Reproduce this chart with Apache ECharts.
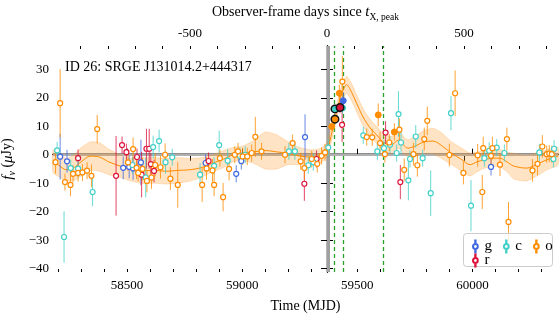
<!DOCTYPE html>
<html>
<head>
<meta charset="utf-8">
<script src="https://cdn.jsdelivr.net/npm/echarts@6/dist/echarts.min.js"></script>
<style>
  html, body { margin: 0; padding: 0; background: #fff; }
  #chart { width: 560px; height: 320px; }
</style>
</head>
<body>
<div id="chart"></div>
<script>
// ---- data ----
// g band (open)
const gT = [58209, 58239, 58483, 58509, 58526, 58560, 58841, 58974, 58996, 59273, 60081];
const gF = [-0.7, -2.3, -4.6, -4.3, -4.8, -2.7, -2.9, -6.7, -2.2, 6.2, -4.3];
const gE = [8, 4, 4, 4, 4, 8, 3, 3, 3, 8, 3];
// r band (open)
const rT = [58287, 58452, 58478, 58497, 58543, 58563, 58584, 58596, 58603, 58617, 58854, 59270, 59323, 59434, 59623, 59687];
const rF = [-1.2, -7.4, 3.4, 0.9, -0.8, -7, 2.1, 2.1, -3.3, -5.7, -2.2, -10.2, -1.5, 10.5, 7.8, -9.6];
const rE = [3, 14, 3, 3, 3, 8, 7, 7, 4, 4, 3, 6, 3, 6, 4, 6];
// c band (open)
const cT = [58196, 58226, 58255, 58287, 58350, 58523, 58581, 58613, 58639, 58667, 58696, 58817, 58878, 58900, 58937,
  58990, 59013, 59203, 59229, 59287, 59309, 59374, 59526, 59587, 59616, 59642, 59671, 59679, 59690, 59722, 59729,
  59754, 59784, 59819, 59907, 59994, 60052, 60073, 60106, 60139, 60291, 60352, 60355];
const cF = [1.5, -28.9, -4.7, -4.9, -13.1, -3.6, -8, 2.7, 4.8, -2.6, -0.9, -7, -3.9, 3.4, -2.1,
  -0.4, 0, 1.2, 1.2, -3.7, -2.6, 2.5, 6.8, 1.2, 2.3, 3.5, 0.6, 14.3, 4.3, -9, -1.5,
  6.4, -1.2, -13.5, 14.6, -17.9, -1.2, 1.4, 2.5, 0.6, 0.8, -1.5, 2.1];
const cE = [3, 9, 3, 3, 5, 3, 7, 4, 4, 4, 3, 4, 3, 5, 4,
  3, 3, 3, 3, 3, 3, 3, 3, 3, 3, 3, 3, 8, 4, 7, 3,
  4, 3, 8, 6, 9, 3, 3, 3, 3, 3, 3, 3];
// o band (open)
const oT = [58189, 58209, 58230, 58254, 58265, 58287, 58306, 58326, 58345, 58370, 58504, 58526, 58541, 58548, 58567,
  58586, 58606, 58622, 58645, 58665, 58688, 58720, 58826, 58845, 58871, 58878, 58903, 58917, 58943, 58968, 58982,
  59002, 59022, 59041, 59057, 59084, 59186, 59219, 59254, 59270, 59302, 59326, 59345, 59360, 59435, 59541, 59565,
  59599, 59620, 59639, 59683, 59704, 59744, 59761, 59791, 59804, 59900, 59925, 59961, 60023, 60043, 60047, 60081,
  60087, 60120, 60150, 60157, 60261, 60283, 60304, 60323, 60334, 60345];
const oF = [-2.6, 18.1, -9.6, -10.6, -6.7, -6.4, -6.2, -5.6, -7.4, 9, -2.7, 2, -4.6, -6.4, -5,
  -9.2, -8, -3.6, -4.4, 0, -8.4, -10.6, -10.6, -4.8, -5.5, -10.6, -1.2, -14.9, -5, 0, 1.2,
  -0.6, -0.6, 0.6, 6.3, 1.2, 0, 4.1, -2.3, -4.7, -1.5, -3.2, -0.4, 0.8, 25.7, 6.2, 6.1,
  4.1, 0.2, 4.3, 8.8, -5.3, 0.2, -3.7, 5.5, 11.9, -0.1, 21.6, -6.4, -0.2, -13.1, 2.3, -0.4,
  2.3, -3.5, 5.5, -23.6, -5.5, -3.2, 2.9, 0.2, 0.4, 0.2];
const oE = [4, 12, 3, 4, 3, 3, 3, 3, 4, 5, 3, 4, 4, 3, 4,
  4, 4, 4, 4, 4, 4, 8, 6, 4, 4, 4, 3, 5, 4, 3, 3,
  3, 3, 3, 7, 3, 3, 3, 3, 4, 3, 3, 3, 3, 9, 3, 3,
  4, 3, 3, 4, 4, 4, 4, 4, 5, 4, 8, 4, 4, 6, 4, 3,
  4, 4, 4, 7, 4, 4, 4, 3, 3, 3];
// filled detections
const oDetT = [59389, 59422, 59591, 59661];
const oDetF = [9.9, 21.6, 14, 8];
const oDetE = [1.5, 3, 4, 3];
const cDetT = [59436];
const cDetF = [16.4];
const cDetE = [2];
const gDetT = [59439];
const gDetF = [19];
const gDetE = [3];
// black-edged points
const keyT = [59403, 59403, 59425];
const keyF = [12.5, 16.1, 16.6];
const keyE = [1.5, 1.5, 2];
const keyBand = ['o', 'c', 'r'];
// model fit and its band half width
const modelT = [58178, 58200, 58236, 58270, 58300, 58340, 58380, 58420, 58470, 58520, 58570, 58620, 58670, 58720,
  58770, 58820, 58870, 58920, 58960, 59000, 59050, 59100, 59150, 59200, 59250, 59300, 59340, 59370, 59390, 59410,
  59430, 59454, 59475, 59497, 59520, 59541, 59565, 59584, 59605, 59625, 59650, 59670, 59685, 59700, 59720, 59750,
  59790, 59830, 59870, 59910, 59950, 59990, 60020, 60050, 60090, 60120, 60150, 60180, 60236, 60290, 60323, 60372];
const modelF = [-2.3, -3.5, -5.3, -4.5, -2.5, -0.5, -0.8, -2.5, -4, -5.3, -5.6, -5.5, -5.8, -5.5,
  -5.3, -4.6, -3, -1.5, 0, 0.5, 1, 1.5, 1, 0.5, -0.5, -0.8, -0.3, 2, 8, 15,
  21, 24.6, 22, 18.1, 14, 11.1, 8.5, 7, 5, 3.8, 3.5, 4.8, 5.2, 3.5, 2.3, 3,
  4.5, 4.8, 3, 0.5, -1.5, -3.5, -2.5, -1.8, -1.2, -1.2, -2.5, -4, -4.7, -3, -1.8, -0.5];
const modelW = [4, 4, 4, 4.5, 5, 5, 5, 4.5, 4, 4, 4.5, 4.5, 4.5, 4.5,
  4, 3.5, 3, 3, 2.5, 2.5, 4, 6.5, 6, 4, 3, 2.5, 2.5, 2.5, 2.5, 2.5,
  3, 3, 3, 3, 3, 3, 3, 3, 3, 3, 3, 3, 3, 3, 3, 3.5,
  4, 4.5, 4.5, 4, 4, 4, 3.5, 3, 3, 3, 3.5, 4.5, 4.5, 4, 3.5, 3];
// reference lines
const tPeak = 59372;
const greenLines = [59400, 59439, 59613];
// ticks
const mjdTicks = [58500, 59000, 59500, 60000];
const dayTicks = [-500, 0, 500];
const fluxTicks = [-40, -30, -20, -10, 0, 10, 20, 30];

const colors = { g: '#4169e1', r: '#dc143c', c: '#40d0c8', o: '#ff8c00' };
const serif = 'Liberation Serif';

const xMin = 58178, xMax = 60372;
const yMin = -41.2, yMax = 38.2;

function range(a, b, step) {
  const out = [];
  for (let v = a; v <= b; v += step) out.push(v);
  return out;
}

function zip(t, f) { return t.map((v, i) => [v, f[i]]); }
function bars(t, f, e) { return t.map((v, i) => [v, f[i] - e[i], f[i] + e[i]]); }

function errSeries(name, data, color) {
  return {
    name: name, type: 'custom', xAxisIndex: 0, yAxisIndex: 0, z: 3, silent: true,
    encode: { x: 0, y: [1, 2] },
    data: data,
    renderItem: function (params, api) {
      const a = api.coord([api.value(0), api.value(1)]);
      const b = api.coord([api.value(0), api.value(2)]);
      return { type: 'line', shape: { x1: a[0], y1: a[1], x2: b[0], y2: b[1] },
        style: { stroke: color, lineWidth: 1, opacity: 0.8 } };
    }
  };
}

function openSeries(name, data, color) {
  return {
    name: name, type: 'scatter', xAxisIndex: 0, yAxisIndex: 0, z: 4, silent: true,
    symbol: 'circle', symbolSize: 5, data: data,
    itemStyle: { color: '#fff', borderColor: color, borderWidth: 1.2, opacity: 1 }
  };
}

function filledSeries(name, data, color, edge) {
  return {
    name: name, type: 'scatter', xAxisIndex: 0, yAxisIndex: 0, z: 5, silent: true,
    symbol: 'circle', symbolSize: edge ? 7.5 : 6, data: data,
    itemStyle: { color: color, borderColor: edge ? '#111' : color, borderWidth: edge ? 1.5 : 1, opacity: 1 }
  };
}

const legendIcon = 'path://M1,10A4,4,0,1,1,9,10A4,4,0,1,1,1,10ZM4.7,0L5.3,0L5.3,6L4.7,6ZM4.7,14L5.3,14L5.3,20L4.7,20Z';

const series = [];

// model band
series.push({
  name: 'band', type: 'custom', xAxisIndex: 0, yAxisIndex: 0, z: 1, silent: true,
  data: [[modelT[0], modelF[0]]],
  renderItem: function (params, api) {
    const up = modelT.map((t, i) => api.coord([t, modelF[i] + modelW[i]]));
    const lo = modelT.map((t, i) => api.coord([t, modelF[i] - modelW[i]])).reverse();
    return { type: 'polygon', shape: { points: up.concat(lo), smooth: 0.2 },
      style: { fill: 'rgba(255,150,40,0.27)', stroke: 'rgba(255,150,40,0.3)', lineWidth: 0.8 } };
  }
});

// reference lines
series.push({
  name: 'refs', type: 'line', xAxisIndex: 0, yAxisIndex: 0, z: 1, data: [], silent: true,
  markLine: {
    silent: true, symbol: 'none', label: { show: false }, animation: false, z: 1,
    data: [
      { yAxis: 0, lineStyle: { color: '#b0b0b0', width: 2, type: 'solid' } },
      { xAxis: tPeak, lineStyle: { color: '#a0a0a0', width: 3, type: 'solid' } }
    ].concat(greenLines.map(v => ({ xAxis: v, lineStyle: { color: '#2ca02c', width: 1.3, type: [4, 3] } })))
  }
});

// model line
series.push({
  name: 'model', type: 'line', xAxisIndex: 0, yAxisIndex: 0, z: 2, silent: true,
  data: zip(modelT, modelF), showSymbol: false, smooth: 0.3,
  lineStyle: { color: '#ff8c00', width: 1 }
});

// error bars
series.push(errSeries('g err', bars(gT, gF, gE), colors.g));
series.push(errSeries('r err', bars(rT, rF, rE), colors.r));
series.push(errSeries('c err', bars(cT, cF, cE), colors.c));
series.push(errSeries('o err', bars(oT, oF, oE), colors.o));
series.push(errSeries('o det err', bars(oDetT, oDetF, oDetE), colors.o));
series.push(errSeries('c det err', bars(cDetT, cDetF, cDetE), colors.c));
series.push(errSeries('g det err', bars(gDetT, gDetF, gDetE), colors.g));
keyT.forEach((t, i) => {
  series.push(errSeries('key err ' + i, [[t, keyF[i] - keyE[i], keyF[i] + keyE[i]]], colors[keyBand[i]]));
});

// open points
series.push(openSeries('g', zip(gT, gF), colors.g));
series.push(openSeries('r', zip(rT, rF), colors.r));
series.push(openSeries('c', zip(cT, cF), colors.c));
series.push(openSeries('o', zip(oT, oF), colors.o));

// filled points
series.push(filledSeries('o det', zip(oDetT, oDetF), colors.o, false));
series.push(filledSeries('c det', zip(cDetT, cDetF), colors.c, false));
series.push(filledSeries('g det', zip(gDetT, gDetF), colors.g, false));
keyT.forEach((t, i) => {
  series.push(filledSeries('key ' + i, [[t, keyF[i]]], colors[keyBand[i]], true));
});

const axisBlack = { show: true, lineStyle: { color: '#000', width: 1.3 } };

const option = {
  animation: false,
  backgroundColor: '#fff',
  textStyle: { fontFamily: serif },
  title: {
    text: 'ID 26: SRGE J131014.2+444317',
    left: 60, top: 55,
    textStyle: { fontFamily: serif, fontSize: 14, fontWeight: 'normal', color: '#000' }
  },
  grid: { left: 53, right: 2, top: 46, bottom: 48, containLabel: false, outerBoundsMode: 'none' },
  xAxis: [
    {
      type: 'value', position: 'bottom', min: xMin, max: xMax,
      name: 'Time (MJD)', nameLocation: 'middle', nameGap: 27,
      nameTextStyle: { fontFamily: serif, fontSize: 14, color: '#000' },
      axisLine: axisBlack,
      axisTick: { show: true, inside: true, length: 6, customValues: mjdTicks, lineStyle: { color: '#000', width: 1 } },
      axisLabel: { customValues: mjdTicks, margin: 7, formatter: v => String(v), fontFamily: serif, fontSize: 13, color: '#000' },
      splitLine: { show: false }
    },
    {
      type: 'value', position: 'top', min: -1000, max: 843,
      name: '{n|Observer-frame days since }{i|t}{s|X, peak}', nameLocation: 'middle', nameGap: 24,
      nameTextStyle: {
        fontFamily: serif, fontSize: 14, color: '#000', lineHeight: 20,
        rich: {
          n: { fontFamily: serif, fontSize: 14, verticalAlign: 'middle', lineHeight: 16 },
          i: { fontFamily: serif, fontSize: 15, fontStyle: 'italic', verticalAlign: 'middle', lineHeight: 16 },
          s: { fontFamily: serif, fontSize: 9.5, verticalAlign: 'bottom', lineHeight: 20 }
        }
      },
      axisLine: axisBlack,
      axisTick: { show: true, inside: true, length: 6, customValues: dayTicks, lineStyle: { color: '#000', width: 1 } },
      axisLabel: { customValues: dayTicks, margin: 6, formatter: v => String(v), fontFamily: serif, fontSize: 13, color: '#000' },
      splitLine: { show: false }
    },
    {
      type: 'value', position: 'bottom', min: xMin, max: xMax,
      axisLine: { show: false },
      axisTick: { show: true, inside: true, length: 3, customValues: range(58200, 60300, 100), lineStyle: { color: '#000', width: 1 } },
      axisLabel: { show: false }, splitLine: { show: false }
    },
    {
      type: 'value', position: 'top', min: -1000, max: 843,
      axisLine: { show: false },
      axisTick: { show: true, inside: true, length: 3, customValues: range(-900, 800, 100), lineStyle: { color: '#000', width: 1 } },
      axisLabel: { show: false }, splitLine: { show: false }
    }
  ],
  yAxis: [
    {
      type: 'value', position: 'left', min: yMin, max: yMax,
      name: '{i|f}{s|ν} ({i|μ}Jy)', nameLocation: 'middle', nameGap: 32,
      nameTextStyle: {
        fontFamily: serif, fontSize: 14, color: '#000', lineHeight: 20,
        rich: {
          i: { fontFamily: serif, fontSize: 15, fontStyle: 'italic', verticalAlign: 'middle', lineHeight: 16 },
          s: { fontFamily: serif, fontSize: 10, fontStyle: 'italic', verticalAlign: 'bottom', lineHeight: 20 }
        }
      },
      axisLine: axisBlack,
      axisTick: { show: true, inside: true, length: 6, customValues: fluxTicks, lineStyle: { color: '#000', width: 1 } },
      axisLabel: {
        customValues: fluxTicks, margin: 4,
        formatter: v => String(v).replace('-', '\u2212'),
        fontFamily: serif, fontSize: 13, color: '#000'
      },
      splitLine: { show: false }
    },
    {
      type: 'value', position: 'right', min: yMin, max: yMax,
      axisLine: axisBlack,
      axisTick: { show: true, inside: true, length: 6, customValues: fluxTicks, lineStyle: { color: '#000', width: 1 } },
      axisLabel: { show: false }, splitLine: { show: false }
    }
  ],
  legend: [
    {
      data: ['g', 'c', 'o'], left: 467, top: 234, orient: 'horizontal', z: 30,
      icon: legendIcon, itemWidth: 6, itemHeight: 12, itemGap: 11,
      selectedMode: false,
      textStyle: { fontFamily: serif, fontSize: 15, color: '#000', padding: [0, 0, 0, 1] }
    },
    {
      data: ['r'], left: 467, top: 248, orient: 'horizontal', z: 30,
      icon: legendIcon, itemWidth: 6, itemHeight: 12, itemGap: 11,
      selectedMode: false,
      textStyle: { fontFamily: serif, fontSize: 15, color: '#000', padding: [0, 0, 0, 1] }
    }
  ],
  graphic: [
    {
      type: 'rect', left: 463, top: 233, z: 20,
      shape: { width: 89, height: 33, r: 3 },
      style: { fill: 'rgba(255,255,255,0.85)', stroke: '#cccccc', lineWidth: 1 }
    }
  ],
  series: series
};

const chart = echarts.init(document.getElementById('chart'), null, { renderer: 'canvas' });
chart.setOption(option);
</script>
</body>
</html>
